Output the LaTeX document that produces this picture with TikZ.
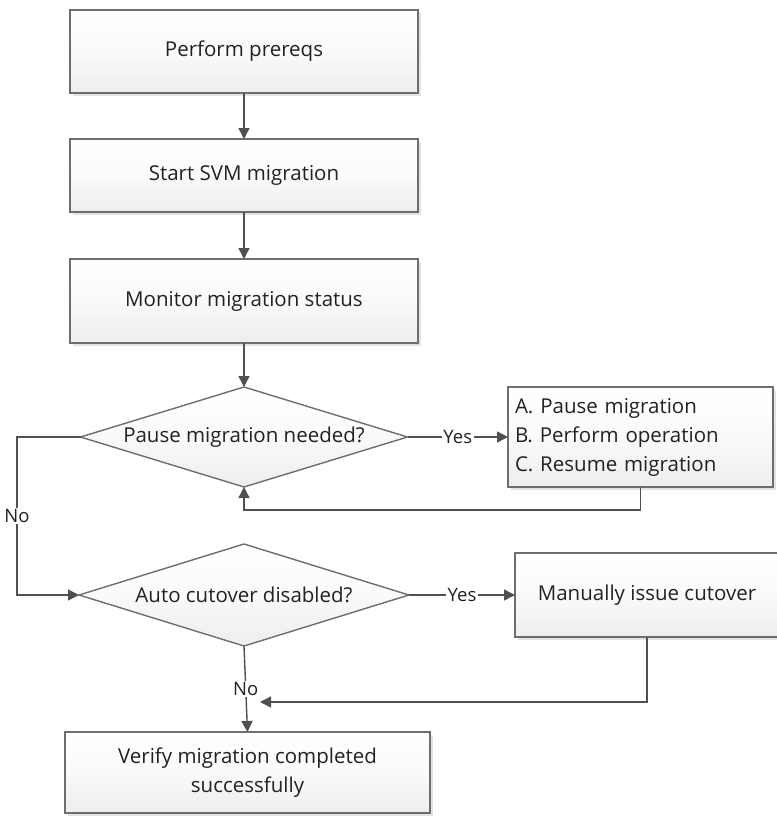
\documentclass[tikz,border=0pt]{standalone}
\usepackage{fontspec}
\setmainfont{Open Sans}
\usetikzlibrary{shapes.geometric,arrows.meta,shadows,calc}
\definecolor{edge}{HTML}{6E6E6E}
\definecolor{conn}{HTML}{505050}
\definecolor{txt}{HTML}{222222}
\tikzset{
  boxbase/.style={draw=edge, line width=1.6pt, shading=axis, top color=white, bottom color=black!7,
    middle color=black!2, inner sep=0pt, outer sep=0pt, text=txt, font=\fontsize{20.5}{29}\selectfont},
  procbox/.style={boxbase, rectangle, drop shadow={shadow xshift=2.5pt, shadow yshift=-2.5pt, fill=black!18, opacity=0.6}},
  decbox/.style={boxbase, diamond, aspect=3.3, line width=1.4pt},
  arr/.style={draw=conn, line width=1.4pt, -{Triangle[length=11pt,width=11pt]}},
  lbl/.style={fill=white, inner sep=1.5pt, text=txt, font=\fontsize{18.5}{20}\selectfont}
}
\begin{document}
\begin{tikzpicture}[x=1pt,y=-1pt]
\useasboundingbox (0,0) rectangle (776,816);
\node[procbox, minimum width=348pt, minimum height=83pt] (b1) at (244,51.5) {Perform prereqs};
\node[procbox, minimum width=348pt, minimum height=73pt] (b2) at (244,175.5) {Start SVM migration};
\node[procbox, minimum width=348pt, minimum height=84pt] (b3) at (244,301) {Monitor migration status};
\node[decbox, minimum width=327pt, minimum height=100pt] (d1) at (244,437) {Pause migration needed?};
\node[procbox, minimum width=265pt, minimum height=100pt, text width=251pt, align=left] (abc) at (640.5,437)
  {A. Pause migration\\B. Perform operation\\C. Resume migration};
\node[decbox, minimum width=330pt, minimum height=102pt] (d2) at (244,595) {Auto cutover disabled?};
\node[procbox, minimum width=264pt, minimum height=84pt] (man) at (647,595) {Manually issue cutover};
\node[procbox, minimum width=365pt, minimum height=81pt, align=center] (ver) at (247.5,772.5)
  {Verify migration completed\\successfully};
\coordinate (loop) at (244,510);
\coordinate (nA) at (17,437);
\coordinate (nB) at (17,595);
\coordinate (m2) at (260,702);
\draw[arr] (b1) -- (b2);
\draw[arr] (b2) -- (b3);
\draw[arr] (b3) -- (d1);
\draw[arr] (d1.east) -- node[lbl]{Yes} (abc.west);
\draw[arr] (abc.south) |- (loop) -- (d1.south);
\draw[arr] (d1.west) -- (nA) -- node[lbl, pos=0.5]{No} (nB) -- (d2.west);
\draw[arr] (d2.east) -- node[lbl]{Yes} (man.west);
\draw[arr] (d2.south) -- node[lbl]{No} (ver.north);
\draw[arr] (man.south) |- (m2);
\end{tikzpicture}
\end{document}
